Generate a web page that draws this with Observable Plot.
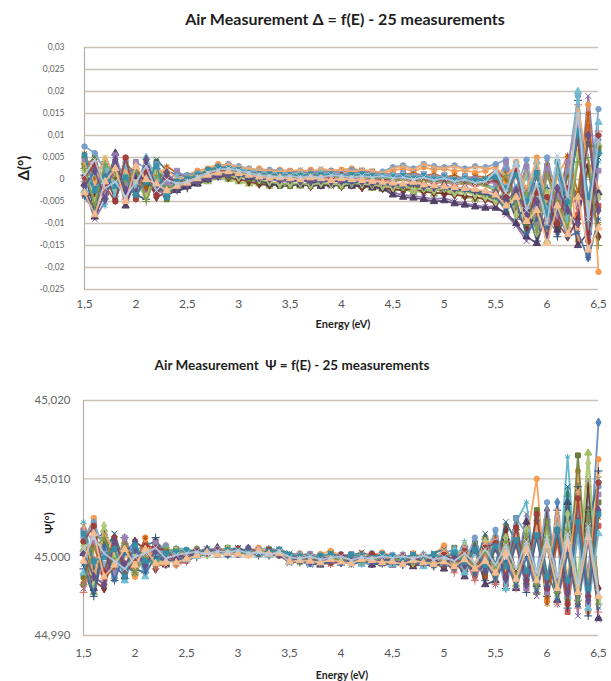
<!DOCTYPE html>
<html><head><meta charset="utf-8">
<script src="https://cdn.jsdelivr.net/npm/d3@7"></script>
<script src="https://cdn.jsdelivr.net/npm/@observablehq/plot@0.6"></script>
<style>
body{margin:0;background:#fff;}
#wrap{position:relative;width:611px;height:681px;font-family:Lato,"Open Sans",sans-serif;overflow:hidden;background:#fff}
.t{position:absolute;white-space:nowrap;font-weight:bold;color:#1e1e1e;transform:translate(-50%,-50%)}
.r{transform:translate(-50%,-50%) rotate(-90deg)}
.p{position:absolute;left:0}
</style></head><body><div id="wrap">
<div class="p" id="top" style="top:0"></div>
<div class="p" id="bot" style="top:340px"></div>
<div class="t" style="left:345px;top:18px;font-size:16px">Air Measurement Δ = f(E) - 25 measurements</div>
<div class="t r" style="left:23px;top:168px;font-size:15px">Δ(°)</div>
<div class="t" style="left:343px;top:323px;font-size:11px">Energy (eV)</div>
<div class="t" style="left:292px;top:365px;font-size:13.5px">Air Measurement&nbsp; Ψ = f(E) - 25 measurements</div>
<div class="t r" style="left:48px;top:523px;font-size:12px">Ψ(°)</div>
<div class="t" style="left:342px;top:675px;font-size:10.5px">Energy (eV)</div>
</div>
<script>
// Photon energy (eV) of each sample
const energies = [1.5,1.6,1.7,1.8,1.9,2.0,2.1,2.2,2.3,2.4,2.5,2.6,2.7,2.8,2.9,3.0,3.1,3.2,3.3,3.4,3.5,3.6,3.7,3.8,3.9,4.0,4.1,4.2,4.3,4.4,4.5,4.6,4.7,4.8,4.9,5.0,5.1,5.2,5.3,5.4,5.5,5.6,5.7,5.8,5.9,6.0,6.1,6.2,6.3,6.4,6.5];
const energyTicks = [1.5,2,2.5,3,3.5,4,4.5,5,5.5,6,6.5];
const deltaTicks = [-0.025,-0.02,-0.015,-0.01,-0.005,0,0.005,0.01,0.015,0.02,0.025,0.03];
const psiTicks = [44.99,45.0,45.01,45.02];
const seriesNames = d3.range(1,26).map(i => "Mesure " + i);
const seriesColors = ["#4F81BD","#C0504D","#9BBB59","#8064A2","#4BACC6","#F79646",
  "#2C4D75","#772C2A","#5F7530","#4D3B62","#276A7C","#B65708",
  "#729ACA","#CD7371","#AFC97A","#9983B5","#6FBDD1","#F9AB6B",
  "#3A679C","#9F3B38","#7F9A48","#664F86","#358EA6","#FAC090","#B9CDE5"];
const seriesSymbols = ["diamond","square","triangle","times","asterisk","circle","plus"];

// Δ, in units of 0.0001°
const deltaRuns = [
 [20,-30,15,40,-20,10,-25,30,-10,5, 0,10,20,25,20,15,10,12,8,10, 5,8,10,6,8,5,10,6,4,5, 0,5,-2,4,-5,0,-8,2,-10,-5, 10,-40,30,-90,40,-60,20,-110,150,-177,90],
 [-35,-60,20,10,-40,25,-10,-30,15,-10, -5,0,5,15,10,25,5,0,-10,-5, 0,-5,5,-10,0,-8,-5,-12,-10,-15, -20,-15,-25,-10,-20,-30,-15,-25,-35,-30, -45,20,-70,-20,-100,30,-60,40,-80,120,-60],
 [40,10,-40,25,0,-20,35,-5,-20,-20, -15,-10,-5,5,0,-5,-10,-10,-15,-10, -10,-15,-10,-15,-10,-15,-12,-15,-20,-22, -25,-20,-30,-25,-33,-28,-30,-38,-45,-40, -35,-70,-20,-115,-30,-140,-40,-90,60,10,80],
 [-20,-90,-50,30,-55,5,15,-20,-40,-15, -10,-5,0,5,8,10,5,-5,-10,-8, -10,-12,-8,-10,-15,-10,-12,-15,-15,-20, -30,-35,-38,-40,-45,-42,-50,-55,-58,-62, -60,-80,-105,-140,-50,-90,-120,30,-60,190,-40],
 [0,25,-60,50,-10,-25,20,-35,10,-5, 5,15,20,30,25,20,18,15,10,12, 10,12,8,10,12,10,15,10,8,10, 5,8,0,5,-3,0,-5,3,-8,-10, -20,30,-60,10,-110,-20,-80,-40,100,-130,40],
 [50,20,35,-30,45,-40,40,10,-25,10, 10,20,25,35,30,25,20,25,20,22, 20,18,22,15,20,22,25,20,18,15, 20,25,18,28,22,25,18,22,15,20, 30,-10,40,-70,50,-120,10,50,-140,170,-210],
 [10,-70,40,-20,30,-35,-45,25,5,-25, -20,-8,10,20,15,12,8,5,0,2, -5,0,-8,-3,-5,-2,-8,-6,-10,-8, -15,-10,-18,-12,-20,-25,-18,-28,-30,-35, -50,-30,-90,-60,-140,-20,-130,-60,180,-150,60],
 [-30,-40,10,-45,20,-30,5,-40,-30,-20, -15,-5,5,10,5,0,-5,-10,-12,-10, -12,-10,-15,-12,-10,-15,-12,-18,-15,-20, -22,-25,-20,-28,-30,-32,-35,-38,-40,-45, -55,-40,-75,-110,-80,-60,-100,-130,-90,30,-130],
 [30,50,-20,0,35,15,-15,40,-45,0, -10,0,10,15,5,10,0,-5,-10,-15, -15,-10,-15,-10,-12,-15,-10,-12,-15,-10, -15,-20,-15,-22,-25,-20,-28,-25,-30,-38, -40,-60,-30,-100,-20,-60,-110,10,-40,80,70],
 [-10,-85,-30,60,-60,0,30,-15,-35,-25, -15,-10,0,10,15,8,5,0,-10,-12, -8,-12,-10,-15,-12,-10,-15,-12,-18,-20, -35,-40,-42,-45,-50,-48,-55,-58,-62,-65, -65,-75,-100,-130,-145,-70,-115,-40,-150,-120,-30],
 [15,-20,25,-40,10,30,-30,45,20,10, 8,12,15,25,30,22,18,15,12,10, 12,8,10,12,8,12,10,8,12,5, 8,10,5,12,0,8,2,-5,5,-2, 10,-50,20,-80,10,-100,30,-70,120,-100,50],
 [60,0,-25,35,-35,35,-20,-10,30,15, 5,10,15,20,25,30,22,18,15,12, 15,20,12,18,15,20,15,18,15,12, 12,10,15,8,12,5,10,0,8,5, 20,0,-40,30,-90,40,-70,55,-30,150,-100],
 [75,60,20,-10,40,-15,10,35,-5,15, 10,15,20,30,35,30,25,20,22,20, 18,20,15,22,20,18,22,20,15,18, 28,32,25,35,30,28,32,25,30,28, 35,45,-20,45,-60,50,-40,20,190,-60,160],
 [-5,40,-10,20,-45,20,-35,0,-15,-10, -5,5,12,18,20,15,12,10,5,8, 5,2,8,5,0,5,2,0,-2,0, -5,0,-8,-2,-10,-5,-12,-8,-15,-10, -5,-30,10,-60,20,-90,-20,-120,170,-80,110],
 [20,-50,45,-25,15,-10,-40,20,10,-15, -10,-5,8,12,10,5,8,0,-5,-10, -10,-8,-12,-8,-10,-12,-8,-10,-12,-15, -18,-15,-22,-20,-25,-20,-30,-28,-35,-40, -50,-20,-80,20,-120,-30,-60,-100,60,-60,-40],
 [45,30,-35,55,-15,40,25,-30,-10,20, 0,10,20,25,30,20,15,20,18,15, 15,12,18,15,18,12,15,20,18,12, 10,15,8,12,5,10,0,8,2,-2, -10,40,-50,30,-100,25,-90,40,130,-170,20],
 [-25,15,30,-35,25,-20,50,5,-30,5, 0,8,15,22,28,25,20,18,15,15, 12,15,10,15,12,8,12,15,10,12, 8,12,5,10,2,8,-2,5,-5,0, 15,-20,35,-40,40,-70,20,-90,200,-110,130],
 [35,-10,50,10,20,-5,0,15,25,0, 5,12,25,30,35,28,25,22,20,18, 20,22,18,25,20,22,18,22,20,15, 25,30,22,35,28,25,30,22,28,25, 25,10,30,-20,45,-50,35,-30,160,40,-20],
 [-40,-70,0,40,-30,15,-5,-25,-20,-15, -10,-3,5,10,12,10,5,2,0,-2, -2,-5,0,-5,-3,-5,-8,-5,-8,-10, -12,-15,-10,-18,-15,-20,-22,-25,-28,-32, -40,-70,-50,-125,-90,-110,-70,-130,-120,-180,-90],
 [5,35,-15,-50,50,-45,20,-35,5,-5, 0,5,15,20,22,18,15,12,10,8, 8,5,10,8,5,10,5,8,5,2, 0,5,-3,2,-5,0,-5,-3,-10,-8, 0,-40,20,-90,-30,-40,-100,-20,90,-140,100],
 [25,-60,35,15,-5,25,-50,10,-20,-10, -5,8,18,28,22,15,12,10,8,5, 5,10,5,8,10,5,8,5,2,5, 0,-2,5,-5,0,-8,-3,-10,-5,-15, -25,10,-60,-30,-120,10,-50,-110,40,50,-150],
 [-15,20,-45,45,-25,-30,45,-20,15,-20, -12,-5,2,8,10,12,8,5,2,0, 0,-3,-5,0,-5,-3,0,-5,-8,-5, -10,-12,-8,-15,-18,-12,-20,-18,-25,-28, -30,-50,-25,-80,-50,-130,-20,-70,-100,100,-70],
 [55,-25,5,-15,5,-35,-5,30,-40,-5, 2,10,22,28,25,22,15,12,12,10, 10,8,12,10,12,8,10,12,8,8, 5,8,2,8,0,5,-2,2,-3,0, 5,-20,10,-50,15,-80,40,-50,110,-40,60],
 [-30,-80,-5,25,-50,30,0,-10,-25,-15, -8,2,10,15,18,14,10,6,3,4, 2,0,4,2,-2,2,0,-2,-4,-6, -8,-10,-6,-12,-14,-16,-18,-20,-22,-26, -35,-60,-40,-95,-70,-145,-60,-125,-40,-160,-110],
 [10,45,-20,-5,-40,-5,30,-25,0,-10, -5,5,15,22,25,20,15,10,8,6, 8,5,8,5,10,8,5,8,5,8, 3,5,0,5,-2,3,-5,0,-8,-5, 20,-30,40,-70,-10,-100,55,-40,150,-90,90]
];

// Ψ − 45°, in units of 0.0001°
const psiRuns = [
 [30,-20,25,-15,10,-10,15,5,-5,8, 5,8,10,6,8,5,10,8,4,6, 0,-2,2,-5,0,-3,2,-5,0,-4, -2,0,-5,2,-3,5,10,-15,20,-10, 15,-30,40,-20,50,-40,70,-50,60,-30,172],
 [-35,40,-20,20,-25,15,-10,20,8,-5, 0,5,8,10,5,8,5,10,6,2, -5,-2,-8,-3,-6,-2,-5,-8,-4,-6, -5,-8,-4,-10,-5,-12,5,-20,15,-25, 25,-35,30,-40,45,-55,20,-70,30,-60,40],
 [10,-45,35,-25,20,-20,5,15,-8,10, 8,10,5,12,8,10,6,8,5,5, 2,0,-3,0,-5,-2,0,-4,-2,0, -3,2,-6,0,-4,3,-10,15,-20,25, -30,20,-35,40,-45,50,-40,80,-30,133,-50],
 [-40,25,-30,30,-15,20,-15,10,12,-8, -5,2,6,4,8,6,10,5,8,4, -8,-5,-10,-6,-8,-4,-10,-6,-8,-5, -8,-5,-12,-6,-10,-8,-15,10,-25,20, -35,30,-25,55,-50,35,-60,60,-75,100,-80],
 [45,-10,15,25,-30,5,20,-10,5,12, 10,6,12,8,10,12,8,10,12,8, 4,2,5,0,3,1,4,2,0,3, 0,4,-2,5,0,8,-5,20,-15,10, 30,-25,45,70,-30,40,-45,128,-50,80,-60],
 [20,50,-35,15,10,-25,25,-5,15,-10, 2,8,4,10,6,4,8,12,5,8, 2,5,0,4,8,2,0,5,3,6, 2,-5,5,0,3,15,-10,5,-20,25, -15,40,-30,20,100,-55,45,-40,110,-70,125],
 [-15,-50,10,-30,25,-15,-20,25,-10,5, 3,0,5,8,4,10,6,2,5,3, -3,-6,-2,-8,-4,-6,-2,-8,-5,-3, -6,-10,-3,-8,-12,-5,8,-18,12,-30, 20,-40,35,-45,30,-50,60,-65,90,-75,110],
 [35,-30,-40,10,-20,20,10,-15,10,-6, -4,4,8,5,10,7,5,8,3,6, 0,-4,2,-6,-2,-4,-6,-2,-8,-3, -5,-3,-8,-2,-10,0,-15,5,-25,10, -20,35,-20,25,-40,60,-30,45,-60,90,-40],
 [-25,30,20,-20,15,-5,-10,15,-5,10, 6,10,4,8,12,6,8,4,10,6, -2,0,-5,-2,0,-6,-3,-1,-4,-7, -4,-6,0,-8,-3,-10,12,-12,18,-20, 10,-15,50,-35,60,-45,30,-55,130,-40,70],
 [5,-40,30,-10,-25,10,-5,5,-10,2, 0,3,7,12,6,5,10,6,4,8, -6,-4,-8,-10,-6,-8,-4,-6,-10,-8, -10,-6,-12,-8,-5,-15,0,-25,10,-35, -30,25,-40,45,-35,30,-55,70,-45,60,-78],
 [40,-15,5,30,-10,-20,15,20,5,-3, 3,6,10,6,8,12,5,8,6,10, 5,2,3,-2,5,0,2,6,1,-2, 2,-4,4,-3,5,10,-5,10,-12,30, -10,45,20,-30,50,-20,-50,90,-60,40,100],
 [-30,15,-25,-15,20,-10,25,-12,-8,5, -2,5,3,8,5,10,3,6,8,4, -4,-8,-2,-5,-10,-3,-7,-4,-6,-9, -7,-2,-10,-5,-8,-12,5,-15,8,-25, 25,-20,15,-35,40,-60,25,-45,70,-55,50],
 [25,45,10,-25,5,15,-15,10,15,-8, 8,4,6,10,8,6,12,5,7,10, 2,4,-2,2,0,4,-3,2,5,0, 3,0,2,-5,2,-5,8,-8,25,-15, 35,-15,50,30,-20,70,-35,40,60,-20,90],
 [-45,0,-30,20,-5,-15,5,-15,5,-10, -6,2,10,4,6,9,3,4,10,5, -3,0,-6,-3,-8,-5,0,-7,-2,-5, -3,-8,-5,-10,-6,-3,-20,0,-30,5, -35,10,-40,15,-45,20,-60,10,-65,30,-70],
 [15,-35,40,0,-15,5,10,-5,-5,8, 4,7,3,9,11,7,9,6,4,6, 0,-6,-3,-7,-2,-5,-8,-3,-5,-4, -6,-3,-7,-4,-10,5,-12,15,-18,20, -25,25,-30,35,-40,30,-50,55,-40,120,-55],
 [35,20,-15,-20,25,-5,-5,18,-6,3, 5,9,6,11,7,3,7,10,6,8, 3,-1,4,1,-3,2,4,0,-2,2, 0,3,-2,2,-4,6,-8,12,-10,15, 20,-30,25,-40,35,-45,50,-35,40,-60,80],
 [-20,35,-10,15,-30,10,-25,5,10,-5, -3,1,5,7,3,8,6,3,2,5, -7,-3,-9,-5,-3,-8,-5,-9,-6,-2, -9,-5,-3,-12,-4,-8,10,-20,5,-15, 15,-40,20,-25,30,-35,40,-50,25,-65,30],
 [40,-25,30,5,10,-15,20,-8,-10,10, 7,4,9,6,10,5,8,11,7,3, 1,3,-1,3,1,-2,1,3,2,-1, -1,2,-3,3,-2,8,-3,12,-8,18, 22,-18,30,-22,40,-30,60,-25,85,-35,105],
 [-10,-45,15,-30,5,20,-20,0,-5,-4, -1,3,4,6,2,6,4,7,3,2, -5,-7,-4,-9,-6,-3,-9,-5,-7,-10, -8,-11,-6,-9,-12,-6,-15,-5,-22,-8, -28,-5,-38,0,-45,15,-55,5,-62,20,-65],
 [20,40,-20,25,-20,-5,15,12,8,-2, 6,8,5,9,7,11,6,4,9,7, 2,0,-3,1,-4,3,-1,-3,4,1, -2,1,-4,0,-6,3,-4,8,-15,12, 18,-25,38,-30,55,-40,35,-60,75,-50,95],
 [-35,10,25,-5,15,-20,0,-10,12,6, 4,6,8,5,9,7,4,9,5,9, -1,-3,1,-4,-1,-5,-2,-6,-3,-1, -5,-1,-6,-2,-8,-4,-10,3,-12,8, -15,20,-25,30,-35,45,-45,35,-55,60,-60],
 [5,-25,-35,20,-10,10,-10,8,-3,0, 2,5,9,7,4,5,11,7,6,4, -4,-2,-7,-1,-5,-7,-4,-1,-6,-3, -4,-7,-1,-6,-3,-9,0,-10,10,-18, 12,-28,18,-35,25,-38,32,-45,45,-55,60],
 [30,-5,0,10,-25,15,-5,-5,5,7, 9,5,7,3,9,8,6,5,7,9, 3,1,-1,2,4,-2,3,1,-1,4, 1,-2,3,-1,4,-2,6,-6,10,-10, 14,-12,22,-18,28,-25,35,-30,45,-40,55],
 [-5,30,-25,-10,10,-10,10,-8,-6,-7, -2,2,6,3,5,4,2,8,4,5, -6,-4,-5,-7,-3,-6,-8,-3,-4,-7, -6,-9,-4,-7,-9,-6,-12,-3,-15,-5, -20,5,-28,10,-30,15,-40,20,-45,25,-50],
 [10,25,5,-5,-15,0,5,12,-2,3, 5,7,4,8,6,9,5,6,3,7, 0,-2,1,-3,-1,1,-4,0,-2,1, -1,1,-2,2,-3,0,-5,5,-8,10, -10,15,-15,20,-20,25,-25,30,-35,40,-45]
];

const decimalComma = s => String(s).replace(".", ",");

function panel(runs, toValue, o) {
  const marks = [
    Plot.ruleY(o.grid, {stroke: "#c9c1b8", strokeWidth: 1.4}),
    Plot.ruleX([1.5], {stroke: "#b9b1a8", strokeWidth: 1.2})
  ];
  runs.forEach((vals, k) => {
    const data = vals.map((v, i) => ({E: energies[i], y: toValue(v), s: seriesNames[k]}));
    marks.push(Plot.line(data, {x: "E", y: "y", stroke: "s", strokeWidth: 1.8, strokeOpacity: 0.85}));
    marks.push(Plot.dot(data, {x: "E", y: "y", fill: "s", stroke: "s", symbol: "s", r: 2.7, strokeWidth: 1, fillOpacity: 0.9}));
  });
  marks.push(Plot.axisX(energyTicks, {tickSize: 0, tickPadding: o.xPad, fontSize: 12, fill: "#555", tickFormat: decimalComma, label: null}));
  marks.push(Plot.axisY(o.ticks, {tickSize: 0, tickPadding: o.yPad, fontSize: o.yFont, fill: "#666", tickFormat: o.yFormat, label: null}));
  return Plot.plot({
    width: 611, height: o.height,
    marginTop: o.mt, marginBottom: o.mb, marginLeft: o.ml, marginRight: o.mr,
    style: {background: "#fff", fontFamily: "Lato, 'Open Sans', sans-serif", overflow: "visible"},
    x: {domain: [1.5, 6.5]},
    y: {domain: o.domain},
    color: {type: "ordinal", domain: seriesNames, range: seriesColors},
    symbol: {domain: seriesNames, range: seriesNames.map((_, i) => seriesSymbols[i % seriesSymbols.length])},
    marks
  });
}

document.getElementById("top").append(panel(deltaRuns, v => v / 10000, {
  height: 340, mt: 47, mb: 51, ml: 84, mr: 13,
  domain: [-0.025, 0.03], grid: deltaTicks, ticks: deltaTicks,
  xPad: 10, yPad: 20, yFont: 8.5,
  yFormat: d => decimalComma(Math.round(d * 1000) / 1000)
}));

document.getElementById("bot").append(panel(psiRuns, v => 45 + v / 10000, {
  height: 341, mt: 60, mb: 46, ml: 83, mr: 13,
  domain: [44.99, 45.02], grid: psiTicks, ticks: psiTicks,
  xPad: 13, yPad: 13, yFont: 11.5,
  yFormat: d => decimalComma(d.toFixed(3))
}));
</script>
</body></html>
